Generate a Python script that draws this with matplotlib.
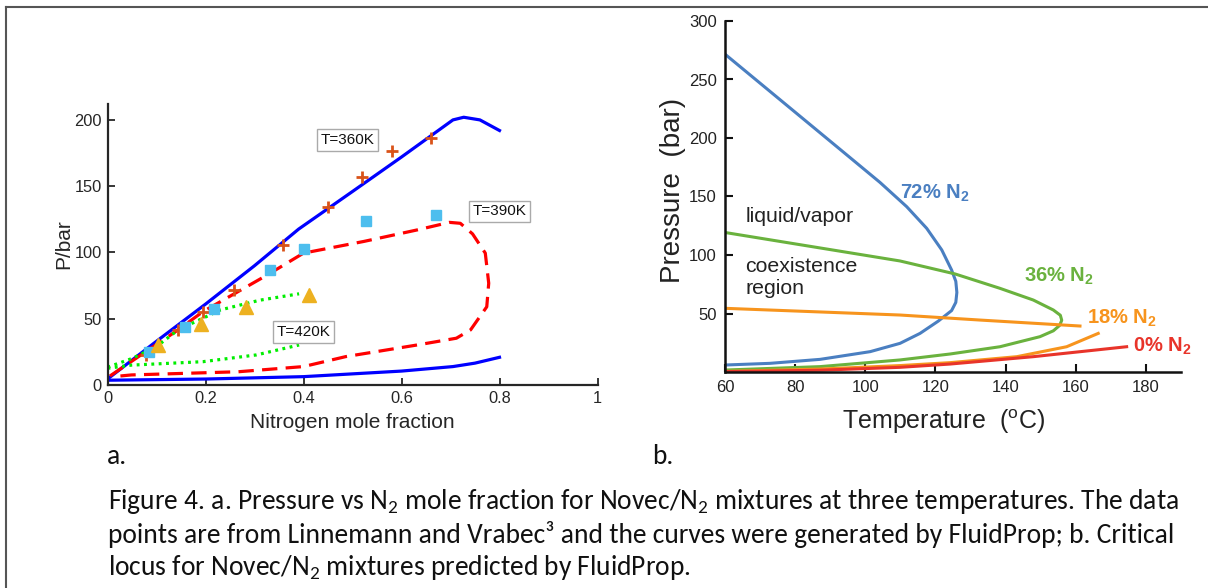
import matplotlib
matplotlib.use('Agg')
import matplotlib.pyplot as plt
from matplotlib import font_manager as fm
from matplotlib.lines import Line2D

def pick(names):
    for n in names:
        try:
            fm.findfont(fm.FontProperties(family=n), fallback_to_default=False)
            return n
        except Exception:
            pass
    return 'DejaVu Sans'

SANS = pick(['Liberation Sans', 'Arial', 'DejaVu Sans'])
CAP = pick(['Carlito', 'Lato', 'Open Sans', 'DejaVu Sans'])

plt.rcParams['mathtext.fontset'] = 'custom'
plt.rcParams['mathtext.rm'] = CAP
plt.rcParams['mathtext.bf'] = SANS + ':bold'
plt.rcParams['mathtext.sf'] = SANS

# ---------------- panel a data ----------------
blue_up_x = [0.0, 0.1, 0.2, 0.3, 0.39, 0.5, 0.6, 0.69, 0.705, 0.727, 0.76, 0.8]
blue_up_y = [4.5, 33, 61, 90, 117.6, 146, 172, 196, 200, 202, 200, 192]
blue_lo_x = [0.0, 0.2, 0.4, 0.6, 0.705, 0.75, 0.8]
blue_lo_y = [3.6, 4.5, 6.3, 10.5, 13.9, 16.5, 20.9]

red_x = [0.005, 0.144, 0.195, 0.326, 0.40, 0.523, 0.632, 0.698, 0.72, 0.745, 0.771, 0.778, 0.774, 0.741, 0.712, 0.632, 0.486, 0.40, 0.267, 0.049, 0.012]
red_y = [6.8, 41.6, 55.4, 83.0, 99.5, 108.3, 117.0, 122.7, 122.0, 114, 99.5, 76.8, 59.0, 41.6, 35.3, 30.2, 21.4, 13.9, 10.0, 7.6, 6.3]

green_up_x = [0.0, 0.05, 0.1, 0.144, 0.231, 0.311, 0.391]
green_up_y = [13.4, 20, 29, 41.6, 56.7, 64.0, 68.8]
green_lo_x = [0.0, 0.049, 0.195, 0.304, 0.391]
green_lo_y = [12.6, 15.0, 17.6, 22.7, 30.2]

plus_x = [0.078, 0.144, 0.195, 0.259, 0.359, 0.45, 0.519, 0.581, 0.661]
plus_y = [22.7, 41.6, 55.4, 71.8, 105.3, 134.3, 156.9, 176.3, 186.4]
sq_x = [0.085, 0.158, 0.218, 0.331, 0.40, 0.528, 0.67]
sq_y = [24.7, 44.0, 57.4, 86.9, 102.5, 123.4, 128.2]
tri_x = [0.103, 0.191, 0.282, 0.411]
tri_y = [30.2, 46.0, 58.7, 68.0]

a_labels = ['T=360K', 'T=390K', 'T=420K']
a_label_x = [0.49, 0.80, 0.40]
a_label_y = [185, 131, 40]

a_xticks = [0, 0.2, 0.4, 0.6, 0.8, 1]
a_xticklabels = ['0', '0.2', '0.4', '0.6', '0.8', '1']
a_yticks = [0, 50, 100, 150, 200]

# ---------------- panel b data ----------------
b72_T = [60.3, 77.6, 94.7, 104.2, 111.8, 117.5, 121.8, 124.6, 125.8, 126.1, 125.8, 124.6, 120.8, 115.6, 109.9, 101.4, 87.1, 72.8, 60.3]
b72_P = [270.9, 228.0, 185.6, 162.0, 141.3, 122.8, 104.3, 87.2, 77.5, 68.0, 59.5, 52.5, 43.5, 33.0, 24.5, 17.4, 10.8, 7.4, 6.0]
b36_T = [60.3, 96.6, 109.9, 125.6, 138.4, 147.9, 153.6, 155.6, 156.0, 155.4, 153.6, 149.8, 138.4, 124.2, 109.9, 87.1, 60.3]
b36_P = [119.1, 101.4, 94.9, 83.8, 71.5, 61.5, 53.0, 48.5, 44.2, 39.8, 35.2, 30.2, 21.6, 15.4, 10.3, 4.6, 1.7]
b18_up_T = [60.3, 109.9, 132.7, 161.2]
b18_up_P = [54.4, 48.7, 44.4, 39.3]
b18_lo_T = [60.3, 87.0, 109.9, 124.2, 143.2, 157.4, 166.4]
b18_lo_P = [0.5, 2.5, 5.5, 8.0, 13.1, 21.6, 33.0]
b0_T = [60.3, 87.0, 109.9, 124.2, 147.9, 174.5]
b0_P = [0.3, 1.5, 4.0, 6.8, 13.1, 21.6]

b_xticks = [60, 80, 100, 120, 140, 160, 180]
b_yticks = [50, 100, 150, 200, 250, 300]

col72, col36, col18, col0 = '#4a7fc1', '#6ab23e', '#f7941d', '#e8342a'

fig = plt.figure(figsize=(12.08, 5.88), dpi=100)
W, H = 1208, 588

def ax_rect(x0, y0, x1, y1):
    return [x0 / W, 1 - y1 / H, (x1 - x0) / W, (y1 - y0) / H]

# ---------------- panel a ----------------
ax = fig.add_axes(ax_rect(107.5, 104, 597.5, 385))
kw = dict(solid_joinstyle='round', dash_joinstyle='round')
ax.plot(blue_up_x, blue_up_y, color='#0000ff', lw=2.3, **kw)
ax.plot(blue_lo_x, blue_lo_y, color='#0000ff', lw=2.3, **kw)
ax.plot(red_x, red_y, color='#ff0000', lw=2.3, dashes=(4.8, 2.6), **kw)
ax.plot(green_up_x, green_up_y, color='#00ee00', lw=2.3, dashes=(0.9, 1.4))
ax.plot(green_lo_x, green_lo_y, color='#00ee00', lw=2.3, dashes=(0.9, 1.4))
ax.plot(plus_x, plus_y, ls='none', marker='+', ms=8, mew=2, color='#d95319')
ax.plot(sq_x, sq_y, ls='none', marker='s', ms=7, color='#4dbeee')
ax.plot(tri_x, tri_y, ls='none', marker='^', ms=10, color='#edb120')
for t, x, y in zip(a_labels, a_label_x, a_label_y):
    ax.text(x, y, t, ha='center', va='center', fontsize=11, family=SANS, color='#111111',
            bbox=dict(boxstyle='square,pad=0.25', fc='white', ec='#aaaaaa', lw=1))
ax.set_xlim(0, 1)
ax.set_ylim(0, 212)
ax.set_xticks(a_xticks)
ax.set_xticklabels(a_xticklabels)
ax.set_yticks(a_yticks)
for s in ['top', 'right']:
    ax.spines[s].set_visible(False)
for s in ['left', 'bottom']:
    ax.spines[s].set_linewidth(1.6)
    ax.spines[s].set_color('#262626')
ax.tick_params(direction='in', length=5, width=1.3, color='#262626', labelsize=11.8,
               labelcolor='#262626', pad=4)
for lab in ax.get_xticklabels() + ax.get_yticklabels():
    lab.set_family(SANS)
ax.set_xlabel('Nitrogen mole fraction', fontsize=15, family=SANS, color='#262626', labelpad=5)
ax.set_ylabel('P/bar', fontsize=15, family=SANS, color='#262626', labelpad=1)

# ---------------- panel b ----------------
bx = fig.add_axes(ax_rect(725, 21, 1181, 372))
bx.plot(b72_T, b72_P, color=col72, lw=2.2, **kw)
bx.plot(b36_T, b36_P, color=col36, lw=2.2, **kw)
bx.plot(b18_up_T, b18_up_P, color=col18, lw=2.2, **kw)
bx.plot(b18_lo_T, b18_lo_P, color=col18, lw=2.2, **kw)
bx.plot(b0_T, b0_P, color=col0, lw=2.2, **kw)
bx.text(110.0, 152.7, r'72% N$_{\mathbf{2}}$', color=col72, fontsize=14.5, fontweight='bold', family=SANS, va='center')
bx.text(145.3, 81.5, r'36% N$_{\mathbf{2}}$', color=col36, fontsize=14.5, fontweight='bold', family=SANS, va='center')
bx.text(163.1, 45.9, r'18% N$_{\mathbf{2}}$', color=col18, fontsize=14.5, fontweight='bold', family=SANS, va='center')
bx.text(176.4, 21.6, r'0% N$_{\mathbf{2}}$', color=col0, fontsize=14.5, fontweight='bold', family=SANS, va='center')
bx.text(65.8, 132.7, 'liquid/vapor', color='#222222', fontsize=15.3, family=SANS, va='center')
bx.text(65.8, 90, 'coexistence', color='#222222', fontsize=15.3, family=SANS, va='center')
bx.text(65.8, 71.5, 'region', color='#222222', fontsize=15.3, family=SANS, va='center')
bx.set_xlim(60, 190)
bx.set_ylim(0, 300)
bx.set_xticks(b_xticks)
bx.set_yticks(b_yticks)
for s in ['top', 'right']:
    bx.spines[s].set_visible(False)
for s in ['left', 'bottom']:
    bx.spines[s].set_linewidth(1.8)
    bx.spines[s].set_color('#111111')
bx.tick_params(direction='in', length=6, width=1.5, color='#111111', labelsize=12,
               labelcolor='#222222', pad=6)
for lab in bx.get_xticklabels() + bx.get_yticklabels():
    lab.set_family(SANS)
bx.set_xlabel(r'Temperature  ($^{\mathsf{o}}$C)', fontsize=18, family=SANS, color='#222222')
bx.xaxis.set_label_coords(0.48, -0.10)
bx.set_ylabel('Pressure  (bar)', fontsize=20, family=SANS, color='#222222')
bx.yaxis.set_label_coords(-0.085, 0.518)

# ---------------- frame and caption ----------------
fig.add_artist(Line2D([5.5 / W, 5.5 / W], [0, 1 - 6.5 / H], transform=fig.transFigure, color='#555555', lw=1.5))
fig.add_artist(Line2D([5.5 / W, 1], [1 - 6.5 / H, 1 - 6.5 / H], transform=fig.transFigure, color='#555555', lw=1.5))

cap_lines = [r'Figure 4. a. Pressure vs N$_2$ mole fraction for Novec/N$_2$ mixtures at three temperatures. The data',
             'points are from Linnemann and Vrabec³ and the curves were generated by FluidProp; b. Critical',
             r'locus for Novec/N$_2$ mixtures predicted by FluidProp.']
cap_y = [501, 534, 567]
fs = 16
t0 = fig.text(108 / W, 1 - cap_y[0] / H, cap_lines[0], fontsize=fs, family=CAP, va='center', ha='left', color='#111111')
r = fig.canvas.get_renderer()
wpx = t0.get_window_extent(r).width
fs = fs * 1075.0 / wpx
t0.set_fontsize(fs)
for ln, yy in zip(cap_lines[1:], cap_y[1:]):
    fig.text(108 / W, 1 - yy / H, ln, fontsize=fs, family=CAP, va='center', ha='left', color='#111111')
fig.text(107 / W, 1 - 456 / H, 'a.', fontsize=fs, family=CAP, va='center', ha='left', color='#111111')
fig.text(652 / W, 1 - 456 / H, 'b.', fontsize=fs, family=CAP, va='center', ha='left', color='#111111')

fig.savefig('out.png', dpi=100, facecolor='white')
